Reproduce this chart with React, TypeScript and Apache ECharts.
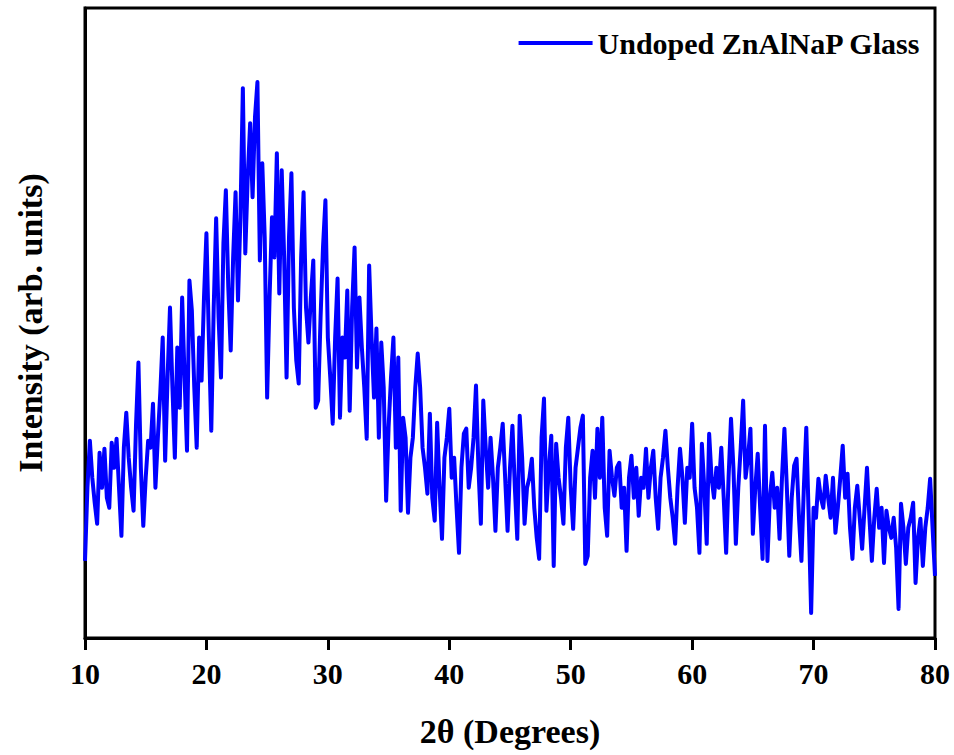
import React, { useEffect, useRef } from "react";
import * as echarts from "echarts";

const SERIES_NAME = "Undoped ZnAlNaP Glass";
const ANGLE_START = 10;
const ANGLE_STEP = 0.2;
const X_TICKS = [10, 20, 30, 40, 50, 60, 70, 80];

// Intensity (arb. units) sampled every 0.2 degrees from 10 to 80
const intensity: number[] = [
  77, 150, 197, 160, 135,
  114, 185, 150, 189, 140,
  130, 195, 170, 199, 150,
  102, 190, 225, 180, 150,
  127, 212, 275, 170, 112,
  160, 197, 190, 234, 150,
  200, 245, 300, 177, 260,
  330, 250, 180, 290, 230,
  340, 260, 187, 357, 327,
  250, 190, 300, 257, 340,
  404, 300, 207, 330, 419,
  320, 260, 394, 447, 350,
  287, 380, 445, 337, 420,
  549, 384, 460, 514, 440,
  520, 555, 377, 474, 400,
  240, 340, 420, 380, 484,
  344, 467, 380, 260, 400,
  464, 330, 277, 254, 380,
  445, 330, 295, 340, 377,
  230, 237, 320, 390, 437,
  300, 260, 214, 300, 359,
  220, 300, 280, 347, 227,
  330, 390, 270, 340, 290,
  250, 199, 372, 300, 240,
  309, 200, 295, 250, 137,
  210, 260, 300, 190, 280,
  127, 220, 200, 125, 180,
  200, 250, 284, 250, 190,
  170, 144, 224, 140, 117,
  215, 150, 99, 180, 200,
  229, 160, 180, 130, 85,
  170, 204, 209, 150, 170,
  200, 252, 170, 114, 237,
  190, 150, 200, 160, 107,
  170, 190, 214, 160, 107,
  170, 212, 150, 99, 222,
  180, 114, 150, 160, 179,
  130, 100, 79, 200, 239,
  127, 170, 202, 72, 194,
  160, 140, 114, 190, 220,
  150, 109, 170, 190, 210,
  222, 74, 82, 160, 187,
  140, 209, 160, 220, 130,
  102, 187, 160, 142, 170,
  175, 130, 150, 87, 160,
  182, 140, 170, 122, 160,
  150, 189, 140, 170, 187,
  140, 109, 160, 180, 207,
  170, 140, 120, 94, 150,
  189, 160, 115, 170, 160,
  214, 150, 130, 85, 194,
  150, 94, 204, 160, 140,
  170, 150, 190, 140, 85,
  160, 219, 170, 94, 150,
  190, 237, 160, 180, 209,
  104, 150, 184, 130, 79,
  212, 77, 140, 165, 130,
  150, 99, 160, 209, 150,
  82, 140, 172, 179, 120,
  77, 150, 210, 120, 25,
  130, 120, 159, 140, 130,
  162, 140, 120, 160, 105,
  130, 160, 192, 140, 164,
  110, 79, 130, 152, 120,
  89, 130, 170, 120, 77,
  120, 149, 110, 130, 75,
  127, 110, 100, 120, 90,
  29, 134, 110, 74, 110,
  120, 135, 55, 100, 119,
  72, 110, 130, 159, 110,
  62,
];

const FONT = "'Liberation Serif', 'Times New Roman', serif";

export default function App() {
  const ref = useRef<HTMLDivElement>(null);

  useEffect(() => {
    if (!ref.current) return;
    const chart = echarts.init(ref.current, undefined, { renderer: "svg" });
    const data = intensity.map((v, i) => [
      Math.round((ANGLE_START + i * ANGLE_STEP) * 10) / 10,
      v,
    ]);
    chart.setOption({
      animation: false,
      backgroundColor: "#ffffff",
      grid: {
        left: 85,
        right: 19,
        top: 8,
        bottom: 117,
        show: true,
        borderColor: "#000",
        borderWidth: 3,
        backgroundColor: "transparent",
      },
      legend: {
        show: true,
        right: 28,
        top: 23,
        itemWidth: 74,
        itemHeight: 4,
        itemGap: 10,
        data: [{ name: SERIES_NAME, icon: "rect" }],
        textStyle: {
          fontFamily: FONT,
          fontWeight: "bold",
          fontSize: 30,
          color: "#000",
        },
      },
      xAxis: {
        type: "value",
        min: X_TICKS[0],
        max: X_TICKS[X_TICKS.length - 1],
        interval: 10,
        name: "2θ (Degrees)",
        nameLocation: "middle",
        nameGap: 76,
        nameTextStyle: {
          fontFamily: FONT,
          fontWeight: "bold",
          fontSize: 34,
          color: "#000",
        },
        axisLine: { show: true, lineStyle: { color: "#000", width: 3 } },
        axisTick: {
          show: true,
          inside: false,
          length: 12,
          lineStyle: { color: "#000", width: 3 },
        },
        axisLabel: {
          margin: 20,
          fontFamily: FONT,
          fontWeight: "bold",
          fontSize: 30,
          color: "#000",
        },
        splitLine: { show: false },
      },
      yAxis: {
        type: "value",
        min: 0,
        max: 629,
        name: "Intensity (arb. units)",
        nameLocation: "middle",
        nameGap: 38,
        nameTextStyle: {
          fontFamily: FONT,
          fontWeight: "bold",
          fontSize: 34,
          color: "#000",
        },
        axisLine: { show: true, lineStyle: { color: "#000", width: 3 } },
        axisTick: { show: false },
        axisLabel: { show: false },
        splitLine: { show: false },
      },
      series: [
        {
          name: SERIES_NAME,
          type: "line",
          data,
          showSymbol: false,
          symbol: "none",
          itemStyle: { color: "#0000FF" },
          lineStyle: { color: "#0000FF", width: 4, join: "round" },
        },
      ],
    });
    return () => chart.dispose();
  }, []);

  return (
    <div
      ref={ref}
      style={{
        position: "fixed",
        left: 0,
        top: 0,
        width: 954,
        height: 755,
        background: "#fff",
      }}
    />
  );
}
